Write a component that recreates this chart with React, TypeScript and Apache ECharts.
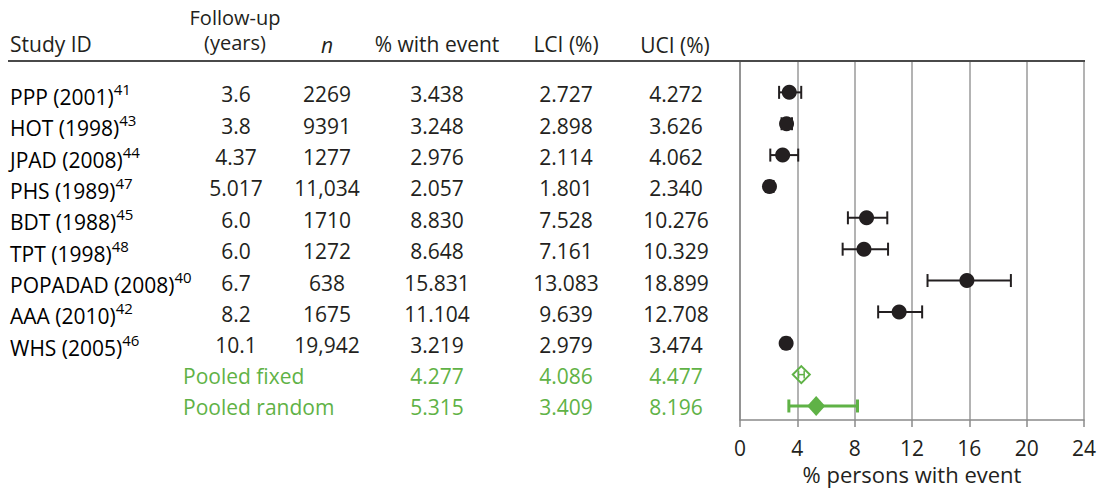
import React, { useEffect, useRef } from "react";
import * as echarts from "echarts";

const studyNames = ["PPP (2001)", "HOT (1998)", "JPAD (2008)", "PHS (1989)", "BDT (1988)", "TPT (1998)", "POPADAD (2008)", "AAA (2010)", "WHS (2005)"];
const studyRefs = ["41", "43", "44", "47", "45", "48", "40", "42", "46"];
const followUp = ["3.6", "3.8", "4.37", "5.017", "6.0", "6.0", "6.7", "8.2", "10.1"];
const nValues = ["2269", "9391", "1277", "11,034", "1710", "1272", "638", "1675", "19,942"];
const pctEvent = [3.438, 3.248, 2.976, 2.057, 8.83, 8.648, 15.831, 11.104, 3.219];
const lciValues = [2.727, 2.898, 2.114, 1.801, 7.528, 7.161, 13.083, 9.639, 2.979];
const uciValues = [4.272, 3.626, 4.062, 2.34, 10.276, 10.329, 18.899, 12.708, 3.474];
const pooledNames = ["Pooled fixed", "Pooled random"];
const pooledPct = [4.277, 5.315];
const pooledLci = [4.086, 3.409];
const pooledUci = [4.477, 8.196];
const headers = ["Study ID", "Follow-up\n(years)", "n", "% with event", "LCI (%)", "UCI (%)"];
const axisName = "% persons with event";

const BLACK = "#231f20";
const GREEN = "#5fb246";
const FONT = "'Open Sans', 'Noto Sans', sans-serif";
const FS = 21;

const fmt = (v: number) => v.toFixed(3);

export default function App() {
  const ref = useRef<HTMLDivElement>(null);
  useEffect(() => {
    const chart = echarts.init(ref.current!, null, { renderer: "svg" });
    const nStudies = studyNames.length;
    const ciData: any[] = [];
    studyNames.forEach((_, i) => ciData.push([lciValues[i], uciValues[i], i]));
    pooledNames.forEach((_, j) => ciData.push([pooledLci[j], pooledUci[j], nStudies + j]));

    const option: any = {
      animation: false,
      grid: { left: 740, right: 18, top: 61, bottom: 67, containLabel: false },
      xAxis: {
        type: "value",
        min: 0,
        max: 24,
        interval: 4,
        axisLine: { show: true, onZero: false, lineStyle: { color: "#8a8a8a", width: 1.5 } },
        axisTick: { show: true, length: 7, lineStyle: { color: "#8a8a8a", width: 1.5 } },
        axisLabel: { color: BLACK, fontSize: 21, fontFamily: FONT, margin: 17 },
        splitLine: { show: true, lineStyle: { color: "#9a9a9a", width: 1.5 } },
        name: axisName,
        nameLocation: "middle",
        nameGap: 39,
        nameTextStyle: { color: BLACK, fontSize: 22, fontFamily: FONT },
      },
      yAxis: {
        type: "value",
        inverse: true,
        min: -1,
        max: 10.45,
        axisLine: { show: true, lineStyle: { color: "#8a8a8a", width: 1.5 } },
        axisTick: { show: false },
        axisLabel: { show: false },
        splitLine: { show: false },
      },
      series: [
        {
          type: "custom",
          data: ciData,
          encode: { x: [0, 1], y: 2 },
          z: 2,
          renderItem: (params: any, api: any) => {
            const y = api.value(2);
            const lo = api.coord([api.value(0), y]);
            const hi = api.coord([api.value(1), y]);
            const idx = params.dataIndex;
            const pooled = idx >= nStudies;
            const color = pooled ? GREEN : BLACK;
            const lw = idx === nStudies ? 1.5 : pooled ? 3 : 2;
            const h = idx === nStudies ? 4 : 6.5;
            const st = { stroke: color, lineWidth: lw };
            return {
              type: "group",
              children: [
                { type: "line", shape: { x1: lo[0], y1: lo[1], x2: hi[0], y2: hi[1] }, style: st },
                { type: "line", shape: { x1: lo[0], y1: lo[1] - h, x2: lo[0], y2: lo[1] + h }, style: st },
                { type: "line", shape: { x1: hi[0], y1: hi[1] - h, x2: hi[0], y2: hi[1] + h }, style: st },
              ],
            };
          },
        },
        {
          type: "scatter",
          z: 3,
          symbol: "circle",
          symbolSize: 15,
          itemStyle: { color: BLACK, opacity: 1 },
          data: pctEvent.map((v, i) => [v, i]),
        },
        {
          type: "scatter",
          z: 3,
          symbol: "diamond",
          symbolSize: [17, 17],
          itemStyle: { color: "rgba(255,255,255,0)", borderColor: GREEN, borderWidth: 2, opacity: 1 },
          data: [[pooledPct[0], nStudies]],
        },
        {
          type: "scatter",
          z: 3,
          symbol: "diamond",
          symbolSize: [18, 20],
          itemStyle: { color: GREEN, opacity: 1 },
          data: [[pooledPct[1], nStudies + 1]],
        },
      ],
    };
    chart.setOption(option);

    const yOf = (i: number) => chart.convertToPixel({ gridIndex: 0 } as any, [0, i])[1];
    const base = { fontFamily: FONT, fontSize: FS, fill: BLACK, lineHeight: 22 };
    const colX = { follow: 236, n: 327, pct: 437, lci: 566, uci: 676 };
    const g: any[] = [];
    const txt = (x: number, y: number, text: string, align: string, extra: any = {}) =>
      g.push({ type: "text", x, y, style: { ...base, text, align, verticalAlign: "middle", ...extra } });

    // header
    txt(10, 44, headers[0], "left");
    txt(235, 30, headers[1], "center", { lineHeight: 25, fontSize: 20 });
    txt(327, 45, headers[2], "center", { fontStyle: "italic" });
    txt(437, 44, headers[3], "center");
    txt(566, 44, headers[4], "center");
    txt(675, 45, headers[5], "center");
    g.push({
      type: "line",
      shape: { x1: 8, y1: 61, x2: 1085, y2: 61 },
      style: { stroke: "#4a4a4a", lineWidth: 2.2 },
      z: 10,
    });

    studyNames.forEach((name, i) => {
      const y = yOf(i);
      g.push({
        type: "text",
        x: 10,
        y: y + 2,
        style: {
          text: `{m|${name}}{s|${studyRefs[i]}}`,
          align: "left",
          verticalAlign: "middle",
          rich: {
            m: { fontFamily: FONT, fontSize: FS, color: BLACK, lineHeight: 26, verticalAlign: "bottom" },
            s: { fontFamily: FONT, fontSize: 15, color: BLACK, lineHeight: 15, verticalAlign: "top" },
          },
        },
      });
      txt(colX.follow, y + 2, followUp[i], "center");
      txt(colX.n, y + 2, nValues[i], "center");
      txt(colX.pct, y + 2, fmt(pctEvent[i]), "center");
      txt(colX.lci, y + 2, fmt(lciValues[i]), "center");
      txt(colX.uci, y + 2, fmt(uciValues[i]), "center");
    });
    pooledNames.forEach((name, j) => {
      const y = yOf(nStudies + j);
      const gs = { fill: GREEN };
      txt(183, y + 1, name, "left", gs);
      txt(colX.pct, y + 1, fmt(pooledPct[j]), "center", gs);
      txt(colX.lci, y + 1, fmt(pooledLci[j]), "center", gs);
      txt(colX.uci, y + 1, fmt(pooledUci[j]), "center", gs);
    });

    chart.setOption({ graphic: { elements: g } });
    return () => chart.dispose();
  }, []);
  return <div ref={ref} style={{ position: "absolute", left: 0, top: 0, width: 1102, height: 490 }} />;
}
